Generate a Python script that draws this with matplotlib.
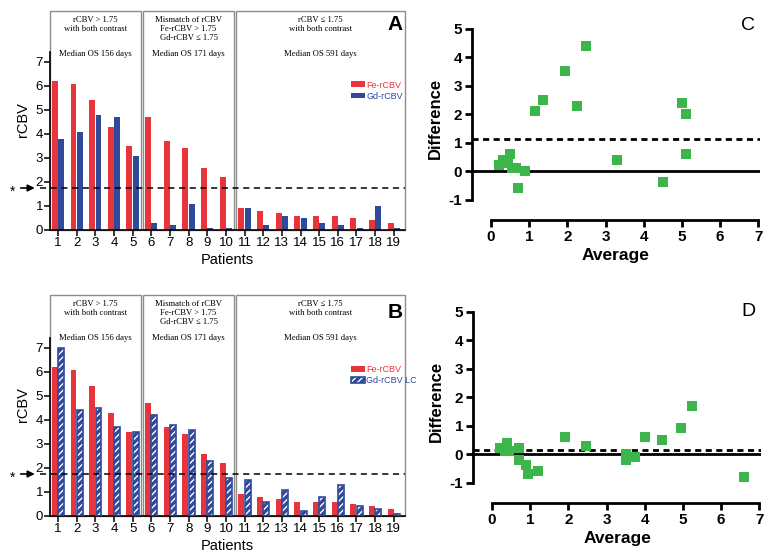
import numpy as np
import matplotlib.pyplot as plt
from matplotlib.patches import Rectangle
from matplotlib.legend_handler import HandlerTuple

plt.rcParams['font.family'] = ['Liberation Sans', 'DejaVu Sans']
plt.rcParams['axes.unicode_minus'] = False

patients = list(range(1, 20))
fe_rcbv = [6.2, 6.1, 5.4, 4.3, 3.5, 4.7, 3.7, 3.4, 2.6, 2.2,
           0.9, 0.8, 0.7, 0.6, 0.6, 0.6, 0.5, 0.4, 0.3]
gd_rcbv = [3.8, 4.1, 4.8, 4.7, 3.1, 0.3, 0.2, 1.1, 0.1, 0.1,
           0.9, 0.2, 0.6, 0.5, 0.3, 0.2, 0.1, 1.0, 0.1]
gd_rcbv_lc = [7.0, 4.4, 4.5, 3.7, 3.5, 4.2, 3.8, 3.6, 2.3, 1.6,
              1.5, 0.6, 1.1, 0.2, 0.8, 1.3, 0.4, 0.3, 0.1]
threshold = 1.75

# Bland-Altman: Fe-rCBV vs Gd-rCBV
c_avg = [5.0, 5.1, 5.1, 4.5, 3.3, 2.5, 1.95, 2.25, 1.35, 1.15,
         0.9, 0.5, 0.65, 0.55, 0.45, 0.4, 0.3, 0.7, 0.2]
c_diff = [2.4, 2.0, 0.6, -0.4, 0.4, 4.4, 3.5, 2.3, 2.5, 2.1,
          0.0, 0.6, 0.1, 0.1, 0.3, 0.4, 0.4, -0.6, 0.2]
c_bias = 1.12
# Bland-Altman: Fe-rCBV vs Gd-rCBV LC
d_avg = [6.6, 5.25, 4.95, 4.0, 3.5, 4.45, 3.75, 3.5, 2.45, 1.9,
         1.2, 0.7, 0.9, 0.4, 0.7, 0.95, 0.45, 0.35, 0.2]
d_diff = [-0.8, 1.7, 0.9, 0.6, 0.0, 0.5, -0.1, -0.2, 0.3, 0.6,
          -0.6, 0.2, -0.4, 0.4, -0.2, -0.7, 0.1, 0.1, 0.2]
d_bias = 0.14

group_edges = [(0.57, 5.45), (5.55, 10.45), (10.55, 19.6)]
group_titles = [["rCBV > 1.75", "with both contrast"],
                ["Mismatch of rCBV", "Fe-rCBV > 1.75", "Gd-rCBV \u2264 1.75"],
                ["rCBV \u2264 1.75", "with both contrast"]]
group_os = ["Median OS 156 days", "Median OS 171 days", "Median OS 591 days"]

red = '#e8353c'
blue = '#2f4a9c'
green = '#3cb54a'

fig = plt.figure(figsize=(7.71, 5.58), dpi=100)


def bar_panel(ax, gd, gd_label, hatched, top):
    x = np.array(patients)
    fe_bars = ax.bar(x - 0.17, fe_rcbv, width=0.32, color=red, zorder=2)
    if hatched:
        fill = ax.bar(x + 0.17, gd, width=0.32, color=blue, edgecolor='white',
                      hatch='/////', linewidth=0, zorder=2)
        edge = ax.bar(x + 0.17, gd, width=0.32, fill=False, edgecolor=blue,
                      linewidth=1.2, zorder=3)
        gd_handle = (fill[0], edge[0])
    else:
        gd_handle = ax.bar(x + 0.17, gd, width=0.32, color=blue, zorder=2)[0]
    ax.set_xlim(0.57, 19.6)
    ax.set_ylim(0, top)
    for (x0, x1), title, os_txt in zip(group_edges, group_titles, group_os):
        ax.add_patch(Rectangle((x0, 0), x1 - x0, top - 0.04, fill=False,
                               edgecolor='#8c8c8c', lw=1.0, clip_on=False, zorder=1))
        xc = (x0 + x1) / 2
        for i, line in enumerate(title):
            ax.text(xc, top - 0.42 - i * 0.37, line, ha='center', va='center',
                    fontsize=6.2, family=['Liberation Serif', 'DejaVu Serif'])
        ax.text(xc, top - 1.83, os_txt, ha='center', va='center',
                fontsize=6.2, family=['Liberation Serif', 'DejaVu Serif'])
    ax.plot([0.03, 19.6], [threshold, threshold], color='black', lw=1.1,
            ls=(0, (4, 3)), clip_on=False, zorder=4)
    ax.annotate('', xy=(-0.1, threshold), xytext=(-1.15, threshold),
                arrowprops=dict(arrowstyle='-|>', color='black', lw=1.2,
                                mutation_scale=10),
                annotation_clip=False)
    ax.text(-1.45, threshold - 0.15, '*', fontsize=10, ha='center', va='center')
    for s in ['top', 'right']:
        ax.spines[s].set_visible(False)
    ax.spines['left'].set_bounds(0, 7.4)
    ax.spines['left'].set_linewidth(1.2)
    ax.spines['bottom'].set_linewidth(1.2)
    ax.set_yticks(range(8))
    ax.set_xticks(patients)
    ax.tick_params(labelsize=9.5, length=4, width=1.1, pad=1)
    ax.set_ylabel('rCBV', fontsize=10.5, labelpad=4)
    ax.set_xlabel('Patients', fontsize=10.5, labelpad=3)
    ax.legend([fe_bars[0], gd_handle], ['Fe-rCBV', gd_label],
              handler_map={tuple: HandlerTuple(ndivide=1, pad=0)},
              loc='upper left', bbox_to_anchor=(0.835, 0.70), frameon=False,
              fontsize=6.5, handlelength=1.6, handleheight=0.6, handletextpad=0.1,
              labelspacing=0.25, borderpad=0, labelcolor=[red, blue])


def ba_panel(ax, avg, diff, bias):
    ax.axhline(0, color='black', lw=2, zorder=1)
    ax.axhline(bias, color='black', lw=2, ls=(0, (2.2, 1.6)), zorder=1)
    ax.scatter(avg, diff, marker='s', s=48, color=green, linewidths=0, zorder=3)
    ax.set_xlim(-0.5, 7.05)
    ax.set_ylim(-1.72, 5.45)
    for s in ['top', 'right']:
        ax.spines[s].set_visible(False)
    ax.spines['left'].set_bounds(-1, 5)
    ax.spines['bottom'].set_bounds(0, 7)
    ax.spines['left'].set_linewidth(2)
    ax.spines['bottom'].set_linewidth(2)
    ax.set_xticks(range(8))
    ax.set_yticks(range(-1, 6))
    ax.tick_params(labelsize=11, length=5, width=2, pad=2)
    for lab in ax.get_xticklabels() + ax.get_yticklabels():
        lab.set_fontweight('bold')
    ax.set_ylabel('Difference', fontsize=12, fontweight='bold', labelpad=4)
    ax.set_xlabel('Average', fontsize=12.5, fontweight='bold', labelpad=3)


axA = fig.add_axes([50 / 771, 328 / 558, 355 / 771, 220 / 558])
bar_panel(axA, gd_rcbv, 'Gd-rCBV', False, 220 / 24)
axB = fig.add_axes([50 / 771, 42 / 558, 355 / 771, 222 / 558])
bar_panel(axB, gd_rcbv_lc, 'Gd-rCBV LC', True, 222 / 24)

axC = fig.add_axes([472 / 771, 338 / 558, 288 / 771, 204 / 558])
ba_panel(axC, c_avg, c_diff, c_bias)
axD = fig.add_axes([473 / 771, 55 / 558, 288 / 771, 204 / 558])
ba_panel(axD, d_avg, d_diff, d_bias)

fig.text(395 / 771, 1 - 25 / 558, 'A', fontsize=15, fontweight='bold', ha='center', va='center')
fig.text(395 / 771, 1 - 312 / 558, 'B', fontsize=15, fontweight='bold', ha='center', va='center')
fig.text(748 / 771, 1 - 25 / 558, 'C', fontsize=14, ha='center', va='center')
fig.text(748 / 771, 1 - 312 / 558, 'D', fontsize=14, ha='center', va='center')

fig.savefig('out.png', dpi=100)
